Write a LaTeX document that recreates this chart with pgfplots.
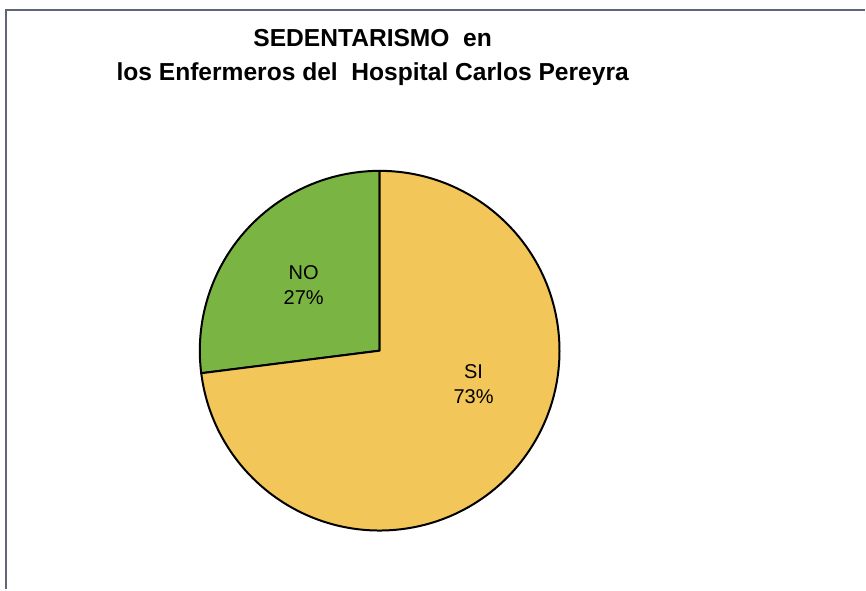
\documentclass[border=0pt]{standalone}
\usepackage{pgfplots}
\pgfplotsset{compat=1.18}
\usepackage{fontspec}
\setmainfont{Liberation Sans}
\definecolor{siYellow}{RGB}{243,198,90}
\definecolor{noGreen}{RGB}{122,181,68}
\definecolor{frameGrey}{RGB}{95,102,118}

% data: percentages
\newcommand{\valNO}{27}
\newcommand{\valSI}{73}

\begin{document}
\begin{tikzpicture}
\begin{axis}[
  scale only axis, width=433pt, height=295pt,
  xmin=0, xmax=866, ymin=0, ymax=590,
  axis lines=none, clip=false,
]
% fix the picture size to the page
\path (axis cs:0,0) rectangle (axis cs:866,590);
% scanned page frame
\draw[frameGrey, line width=0.8pt] (axis cs:6,0) -- (axis cs:6,580) -- (axis cs:866,580);

% pie: centre (380,239), radius 180 units = 90pt
\pgfmathsetmacro{\aNO}{90+3.6*\valNO}
\pgfmathsetmacro{\aSI}{\aNO+3.6*\valSI}
\filldraw[fill=noGreen, draw=black, line width=1pt, line join=round]
  (axis cs:380,239) -- (axis cs:380,419) arc[start angle=90, end angle=\aNO, radius=90pt] -- cycle;
\filldraw[fill=siYellow, draw=black, line width=1pt, line join=round]
  (axis cs:380,239) -- ++(\aNO:90pt) arc[start angle=\aNO, end angle=\aSI, radius=90pt] -- cycle;

% labels
\node[anchor=base, font=\fontsize{10}{12}\selectfont] at (axis cs:304,310) {NO};
\node[anchor=base, font=\fontsize{10}{12}\selectfont] at (axis cs:304,285) {\valNO\%};
\node[anchor=base, font=\fontsize{10}{12}\selectfont] at (axis cs:474,211) {SI};
\node[anchor=base, font=\fontsize{10}{12}\selectfont] at (axis cs:474,186) {\valSI\%};

% title
\node[anchor=base, font=\fontsize{12.3}{14}\selectfont\bfseries] at (axis cs:373,543) {SEDENTARISMO~~en};
\node[anchor=base, font=\fontsize{12.3}{14}\selectfont\bfseries] at (axis cs:373,509) {los Enfermeros del~~Hospital Carlos Pereyra};
\end{axis}
\end{tikzpicture}
\end{document}
